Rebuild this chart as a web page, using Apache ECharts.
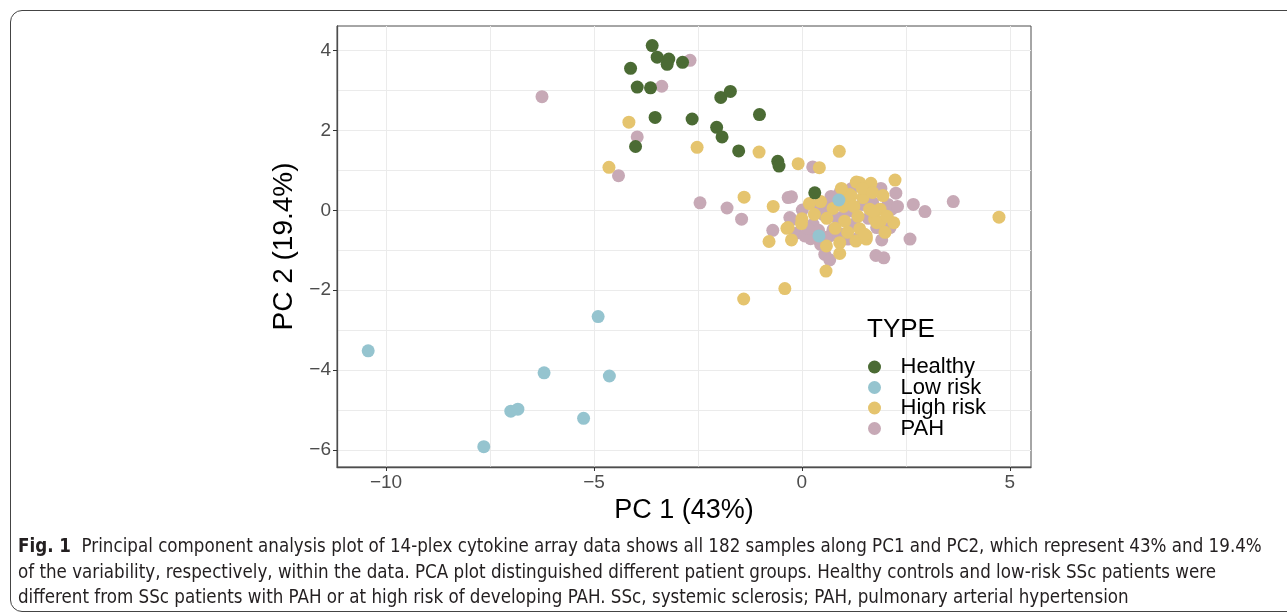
<!DOCTYPE html>
<html>
<head>
<meta charset="utf-8">
<script src="https://cdn.jsdelivr.net/npm/echarts@6/dist/echarts.min.js"></script>
<style>
  body { margin: 0; background: #fff; }
  #frame { position: absolute; left: 10px; top: 10px; width: 1300px; height: 602px;
           border: 1px solid #444; border-radius: 12px; box-sizing: border-box; }
  #chart { position: absolute; left: 0; top: 0; width: 1287px; height: 616px; }
  #caption { position: absolute; left: 18px; top: 533px; font-family: "Liberation Sans Narrow", "DejaVu Sans Condensed", "Liberation Sans", sans-serif;
             font-stretch: condensed; font-size: 18.6px; line-height: 25.5px; color: #231f20; white-space: nowrap; }
  #caption b { font-weight: bold; }
</style>
</head>
<body>
<div id="frame"></div>
<div id="chart"></div>
<div id="caption"><b>Fig. 1</b>&nbsp; Principal component analysis plot of 14-plex cytokine array data shows all 182 samples along PC1 and PC2, which represent 43% and 19.4%<br>of the variability, respectively, within the data. PCA plot distinguished different patient groups. Healthy controls and low-risk SSc patients were<br>different from SSc patients with PAH or at high risk of developing PAH. SSc, systemic sclerosis; PAH, pulmonary arterial hypertension</div>
<script>
// tick values and gridlines
const xTicks = [-10, -5, 0, 5];
const yTicks = [-6, -4, -2, 0, 2, 4];
const xMinor = [-7.5, -2.5, 2.5];
const yMinor = [-5, -3, -1, 1, 3];

const groups = ['Healthy', 'Low risk', 'High risk', 'PAH'];
const colors = { 'Healthy': '#4b6b34', 'Low risk': '#95c4cf', 'High risk': '#e5c46e', 'PAH': '#c7a9b6' };

// PC1, PC2 per sample
const healthy = [
  [-3.60, 4.13], [-3.48, 3.84], [-3.20, 3.79], [-3.24, 3.66], [-2.87, 3.71], [-4.12, 3.56],
  [-3.96, 3.09], [-3.64, 3.07], [-1.95, 2.83], [-1.72, 2.98], [-3.53, 2.33], [-2.64, 2.29],
  [-1.02, 2.40], [-2.05, 2.08], [-1.92, 1.84], [-4.00, 1.60], [-1.52, 1.49], [-0.58, 1.23],
  [-0.55, 1.11], [0.31, 0.44]
];
const lowRisk = [
  [-10.43, -3.52], [-4.90, -2.66], [-6.20, -4.07], [-4.63, -4.15], [-7.00, -5.03],
  [-6.83, -4.98], [-5.25, -5.21], [-7.65, -5.92], [0.89, 0.26], [0.41, -0.64]
];
const highRisk = [
  [-4.16, 2.21], [-2.52, 1.58], [-1.03, 1.46], [-4.64, 1.08], [-0.09, 1.17], [-1.39, 0.33],
  [-0.69, 0.10], [-0.79, -0.78], [-0.36, -0.45], [-0.41, -1.96], [-1.40, -2.22], [0.90, 1.48],
  [0.42, 1.07], [1.31, 0.71], [1.66, 0.68], [2.24, 0.76], [1.39, 0.69], [1.95, 0.37],
  [0.18, 0.17], [0.45, 0.22], [0.00, -0.21], [-0.33, -0.43], [-0.25, -0.74], [-0.01, -0.33],
  [0.59, -0.89], [0.91, -0.81], [0.91, -1.08], [0.58, -1.52], [1.30, -0.77], [1.55, -0.72],
  [1.03, -0.27], [1.15, 0.40], [1.47, 0.32], [1.63, 0.03], [1.88, 0.03], [1.75, -0.22],
  [1.88, -0.29], [2.21, -0.31], [1.39, -0.46], [1.55, -0.64], [1.80, -0.31], [1.07, 0.28],
  [1.19, 0.36], [1.71, -0.02], [1.51, -0.60], [0.75, 0.05], [1.00, 0.10], [1.25, 0.10],
  [1.35, -0.15], [0.60, -0.20], [0.80, -0.45], [1.10, -0.55], [2.05, -0.15], [0.30, -0.10],
  [0.95, 0.55], [1.45, 0.55], [1.70, 0.45], [2.00, -0.55], [4.74, -0.17]
];
const pah = [
  [-6.25, 2.85], [-2.69, 3.76], [-3.37, 3.11], [-3.96, 1.84], [-4.41, 0.87], [-2.45, 0.19],
  [-1.80, 0.06], [-1.45, -0.22], [-0.70, -0.50], [-0.33, 0.32], [0.26, 1.09], [-0.25, 0.34],
  [3.64, 0.22], [2.68, 0.15], [2.96, -0.03], [2.60, -0.72], [1.78, -1.13], [1.97, -1.19],
  [0.55, -1.10], [0.67, -1.24], [0.91, 0.44], [2.26, 0.43], [0.01, 0.01], [-0.25, -0.23],
  [-0.14, -0.57], [0.21, -0.71], [0.27, -0.35], [0.51, -0.02], [1.22, -0.02], [2.16, 0.03],
  [2.12, -0.43], [1.80, -0.43], [0.67, -0.64], [1.11, -0.72], [1.92, -0.74], [0.07, -0.64],
  [0.59, -0.68], [0.75, -0.48], [0.51, -0.10], [1.55, 0.36], [2.07, 0.15], [0.63, 0.19],
  [0.91, 0.15], [-0.29, -0.18], [0.35, 0.10], [0.40, -0.50], [0.85, -0.20], [1.05, -0.05],
  [1.25, -0.35], [1.45, 0.15], [1.60, -0.20], [1.20, 0.55], [0.70, 0.35], [1.90, 0.55],
  [1.35, -0.70], [0.95, -0.60], [0.15, -0.45], [2.30, 0.10], [1.70, 0.20], [0.45, -0.85]
];

const font = '"Liberation Sans", Arial, sans-serif';
const minus = v => String(v).replace('-', '\u2212');

function gridLines() {
  const d = [];
  xTicks.concat(xMinor).forEach(v => d.push({ xAxis: v }));
  yTicks.concat(yMinor).forEach(v => d.push({ yAxis: v }));
  return d;
}

function pts(name, data) {
  return {
    name: name, type: 'scatter', data: data, symbolSize: 13,
    itemStyle: { color: colors[name], opacity: 1 }, z: 3
  };
}

const chart = echarts.init(document.getElementById('chart'), null, { renderer: 'canvas' });
chart.setOption({
  animation: false,
  textStyle: { fontFamily: font },
  grid: { left: 337, right: 256, top: 26, bottom: 149, show: true, borderColor: '#4d4d4d', borderWidth: 1 },
  xAxis: {
    type: 'value', min: -11.18, max: 5.51,
    axisLine: { show: true, onZero: false, lineStyle: { color: '#4d4d4d', width: 1.3 } },
    axisTick: { show: true, customValues: xTicks, length: 4, lineStyle: { color: '#333' } },
    axisLabel: { customValues: xTicks, fontSize: 19, color: '#4d4d4d', margin: 6, formatter: minus },
    splitLine: { show: false },
    name: 'PC 1 (43%)', nameLocation: 'middle', nameGap: 29,
    nameTextStyle: { fontSize: 27, color: '#000' }
  },
  yAxis: {
    type: 'value', min: -6.43, max: 4.62,
    axisLine: { show: true, onZero: false, lineStyle: { color: '#4d4d4d', width: 1.3 } },
    axisTick: { show: true, customValues: yTicks, length: 4, lineStyle: { color: '#333' } },
    axisLabel: { customValues: yTicks, fontSize: 19, color: '#4d4d4d', margin: 6, formatter: minus },
    splitLine: { show: false },
    name: 'PC 2 (19.4%)', nameLocation: 'middle', nameGap: 34,
    nameTextStyle: { fontSize: 28, color: '#000' }
  },
  legend: {
    data: groups, orient: 'vertical', left: 863, top: 351, icon: 'circle', z: 10,
    itemWidth: 28, itemHeight: 13, itemGap: -1.5, selectedMode: false,
    textStyle: { fontSize: 22, color: '#000', lineHeight: 21, padding: [0, 0, 0, 7] }
  },
  graphic: [
    { type: 'text', left: 867, top: 317, z: 10, style: { text: 'TYPE', fontSize: 26, fill: '#000', font: '26px ' + font } }
  ],
  series: [
    {
      type: 'scatter', data: [], z: 0, zlevel: 0, silent: true,
      markLine: {
        silent: true, symbol: 'none', animation: false, z: 0,
        label: { show: false },
        lineStyle: { color: '#ebebeb', width: 1, type: 'solid' },
        data: gridLines()
      }
    },
    pts('PAH', pah),
    pts('High risk', highRisk),
    pts('Healthy', healthy),
    pts('Low risk', lowRisk)
  ]
});
</script>
</body>
</html>
